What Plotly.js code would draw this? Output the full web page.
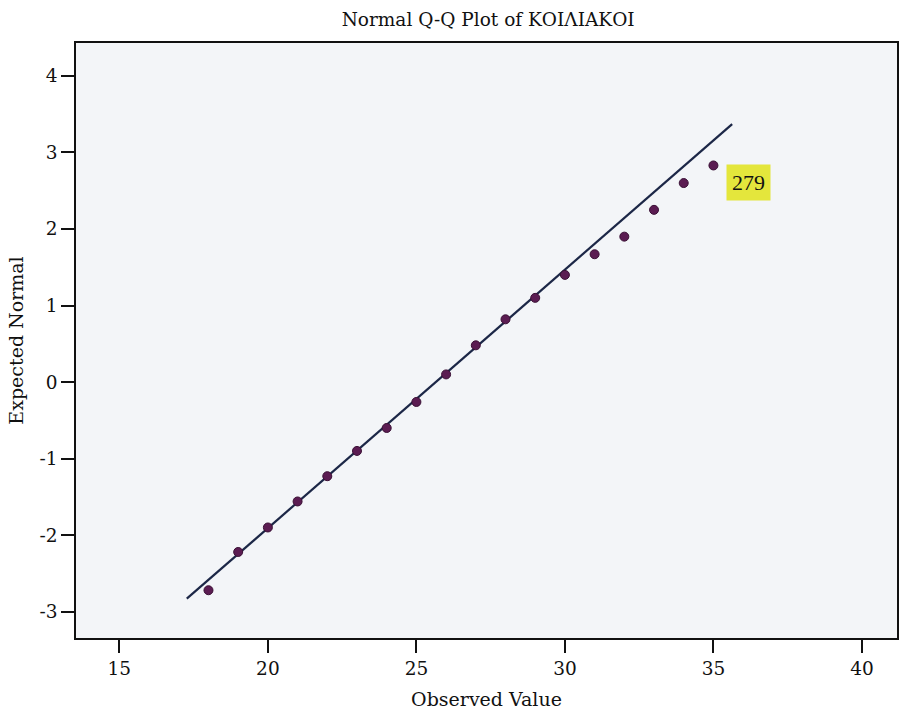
<!DOCTYPE html>
<html><head><meta charset="utf-8">
<script src="https://cdn.plot.ly/plotly-3.0.1.min.js"></script>
<style>body{margin:0;background:#fff}</style>
</head><body>
<div id="chart" style="width:899px;height:710px"></div>
<script>
const observed = [18,19,20,21,22,23,24,25,26,27,28,29,30,31,32,33,34,35];
const expected = [-2.72,-2.22,-1.90,-1.56,-1.23,-0.90,-0.60,-0.26,0.10,0.48,0.82,1.10,1.40,1.67,1.90,2.25,2.60,2.83];
const refLineX = [17.27, 35.63];
const refLineY = [-2.83, 3.37];
const labelText = "279";
const labelX = 35, labelY = 2.83;
const xTicks = [15,20,25,30,35,40];
const yTicks = [-3,-2,-1,0,1,2,3,4];

const font = "DejaVu Serif, Liberation Serif, serif";
const labelFont = "Liberation Serif, serif";
const data = [
  {x: refLineX, y: refLineY, mode: 'lines', type: 'scatter',
   line: {color: '#1c2747', width: 2.2}, hoverinfo: 'skip'},
  {x: observed, y: expected, mode: 'markers', type: 'scatter',
   marker: {color: '#5b1c52', size: 9, line: {color: '#3a1035', width: 1}}}
];
const layout = {
  width: 899, height: 710,
  margin: {l: 76, r: 2, t: 43, b: 72},
  paper_bgcolor: '#ffffff', plot_bgcolor: '#f3f5f8',
  showlegend: false,
  font: {family: font, color: '#111', size: 18},
  title: {text: 'Normal Q-Q Plot of ΚΟΙΛΙΑΚΟΙ', x: 0.543, xanchor: 'center', y: 0.972, yanchor: 'middle',
          font: {family: font, size: 18.5, color: '#111'}},
  xaxis: {range: [13.54, 41.18], tickvals: xTicks, ticktext: xTicks.map(String),
          ticks: 'outside', ticklen: 13, tickwidth: 1.5, tickcolor: '#111',
          showline: true, linecolor: '#111', linewidth: 1.5, mirror: true,
          showgrid: false, zeroline: false,
          tickfont: {family: font, size: 18.5},
          title: {text: 'Observed Value', font: {family: font, size: 19}, standoff: 18}},
  yaxis: {range: [-3.344, 4.43], tickvals: yTicks, ticktext: yTicks.map(String),
          ticks: 'outside', ticklen: 13, tickwidth: 1.5, tickcolor: '#111',
          showline: true, linecolor: '#111', linewidth: 1.5, mirror: true,
          showgrid: false, zeroline: false,
          tickfont: {family: font, size: 18.5},
          title: {text: 'Expected Normal', font: {family: font, size: 19}, standoff: 11}},
  annotations: [{x: labelX, y: labelY, xref: 'x', yref: 'y', text: labelText,
    showarrow: false, xanchor: 'left', yanchor: 'top', xshift: 13, yshift: 1,
    bgcolor: '#e4e63c', borderpad: 5,
    font: {family: labelFont, size: 22, color: '#111'}}]
};
Plotly.newPlot('chart', data, layout, {displayModeBar: false});
</script>
</body></html>
